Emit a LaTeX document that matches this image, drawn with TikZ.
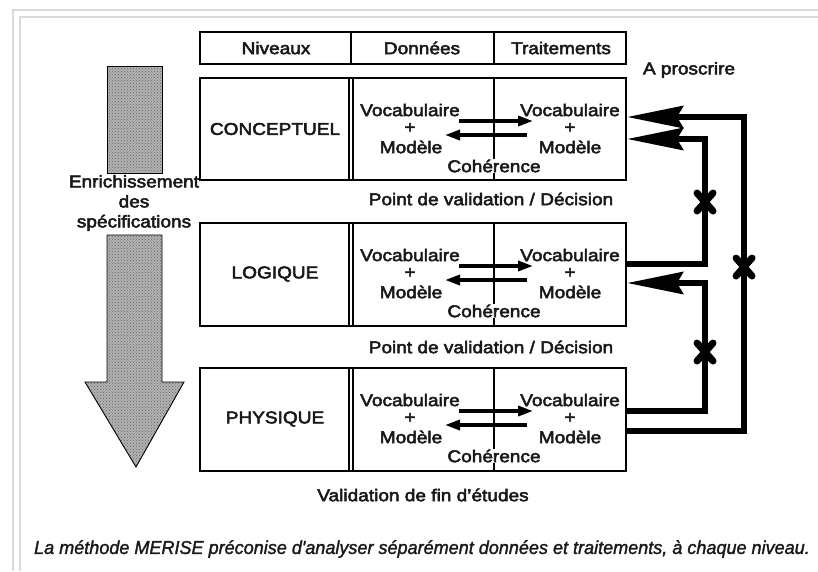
\documentclass[tikz,border=0pt]{standalone}
\usepackage{fontspec}
\setmainfont{Liberation Sans}[FakeStretch=1.12,FakeBold=3]
\newfontfamily\capfont{Liberation Sans}[FakeStretch=0.97,FakeBold=1.5]
\usetikzlibrary{arrows.meta,patterns}
\begin{document}
\begin{tikzpicture}[x=1pt,y=-1pt,
  lbl/.style={font=\fontsize{17}{20}\selectfont, inner sep=0pt, text=black!90},
  box/.style={draw, line width=1.8pt, minimum width=426pt, inner sep=0pt},
  divline/.style={line width=1.3pt},
  bigarr/.style={line width=6pt, -{Stealth[length=56pt,width=22pt,inset=6pt]}},
  smallarr/.style={line width=3.4pt, -{Triangle[length=15pt,width=10pt]}},
  crossmark/.style={line width=7pt, line cap=round},
  frameline/.style={draw=gray!30, line width=2pt}]
\useasboundingbox (0,0) rectangle (818,571);
\fill[white] (0,0) rectangle (818,571);
% frame
\draw[frameline] (13,571) -- (13,10) -- (818,10);
\draw[frameline] (20,571) -- (20,17) -- (818,17);

% big arrow
\path[fill=gray!60] (107,66) rectangle (162,173);
\path[pattern=crosshatch dots, pattern color=black!60] (107,66) rectangle (162,173);
\draw[line width=0.9pt] (107,66) rectangle (162,173);
\path[fill=gray!60] (107,235) -- (162,235) -- (162,382) -- (184,382) -- (136,467) -- (85,382) -- (107,382) -- cycle;
\path[pattern=crosshatch dots, pattern color=black!60] (107,235) -- (162,235) -- (162,382) -- (184,382) -- (136,467) -- (85,382) -- (107,382) -- cycle;
\draw[line width=0.9pt, line join=miter] (107,235) -- (162,235) -- (162,382) -- (184,382) -- (136,467) -- (85,382) -- (107,382) -- cycle;
\node[lbl, align=center] (enr) at (134,203) {Enrichissement\\des\\spécifications};

% boxes
\node[box, minimum height=32pt] (hdr) at (413,48) {};
\node[box, minimum height=102pt] (con) at (413,129) {};
\node[box, minimum height=103pt] (log) at (413,274.5) {};
\node[box, minimum height=103pt] (phy) at (413,419.5) {};

% dividers
\draw[line width=2.2pt] (351,32) -- (351,64);
\draw[line width=2.2pt] (494,32) -- (494,64);
\foreach \t/\b in {78/180, 223/326, 368/471}{
  \draw[divline] (349,\t) -- (349,\b);
  \draw[divline] (353,\t) -- (353,\b);
  \draw[line width=1.2pt] (494,\t) -- (494,\b);
}

% header texts
\node[lbl] (hn) at (276,48) {Niveaux};
\node[lbl] (hd) at (422,48) {Données};
\node[lbl] (ht) at (561,48) {Traitements};
\node[lbl] (ap) at (689,70) {A proscrire};

% level names
\node[lbl] (ncon) at (275,129) {CONCEPTUEL};
\node[lbl] (nlog) at (275,274) {LOGIQUE};
\node[lbl] (nphy) at (275,419) {PHYSIQUE};

% contents
\foreach \nm/\top in {c/78, l/223, p/368}{
  \node[lbl] (\nm vl) at (410,\top+32) {Vocabulaire};
  \node[lbl] (\nm pl) at (410,\top+50) {+};
  \node[lbl] (\nm ml) at (411,\top+69) {Modèle};
  \node[lbl] (\nm vr) at (570,\top+32) {Vocabulaire};
  \node[lbl] (\nm pr) at (570,\top+50) {+};
  \node[lbl] (\nm mr) at (570,\top+69) {Modèle};
  \node[lbl, fill=white, inner sep=1pt] (\nm co) at (494,\top+88) {Cohérence};
  \coordinate (\nm a1) at (459,\top+43);
  \coordinate (\nm a2) at (533,\top+43);
  \coordinate (\nm b1) at (527,\top+57);
  \coordinate (\nm b2) at (445,\top+57);
  \draw[smallarr] (\nm a1) -- (\nm a2);
  \draw[smallarr] (\nm b1) -- (\nm b2);
}

% validation labels
\node[lbl] (pv1) at (491,199) {Point de validation / Décision};
\node[lbl] (pv2) at (491,347) {Point de validation / Décision};
\node[lbl] (vf) at (423,495) {Validation de fin d'études};

% right side connectors
\coordinate (c1) at (627,117);
\coordinate (c2) at (627,139);
\coordinate (l1) at (627,264);
\coordinate (l2) at (627,283);
\coordinate (p1) at (627,411);
\coordinate (p2) at (627,431);
\draw[bigarr] (p2) -- (744,431) -- (744,117) -- (c1);
\draw[bigarr] (l1) -- (705,264) -- (705,139) -- (c2);
\draw[bigarr] (p1) -- (705,411) -- (705,283) -- (l2);
% crosses
\foreach \cx/\cy in {705/202, 744/267, 705/352}{
  \draw[crossmark] (\cx-8,\cy-9) -- (\cx+8,\cy+9) (\cx+8,\cy-9) -- (\cx-8,\cy+9);
}

% caption
\node[font=\capfont\itshape\fontsize{18.6}{20}\selectfont, inner sep=0pt, text=black!90] (cap) at (422,549)
  {La méthode MERISE préconise d'analyser séparément données et traitements, à chaque niveau.};
\end{tikzpicture}
\end{document}
